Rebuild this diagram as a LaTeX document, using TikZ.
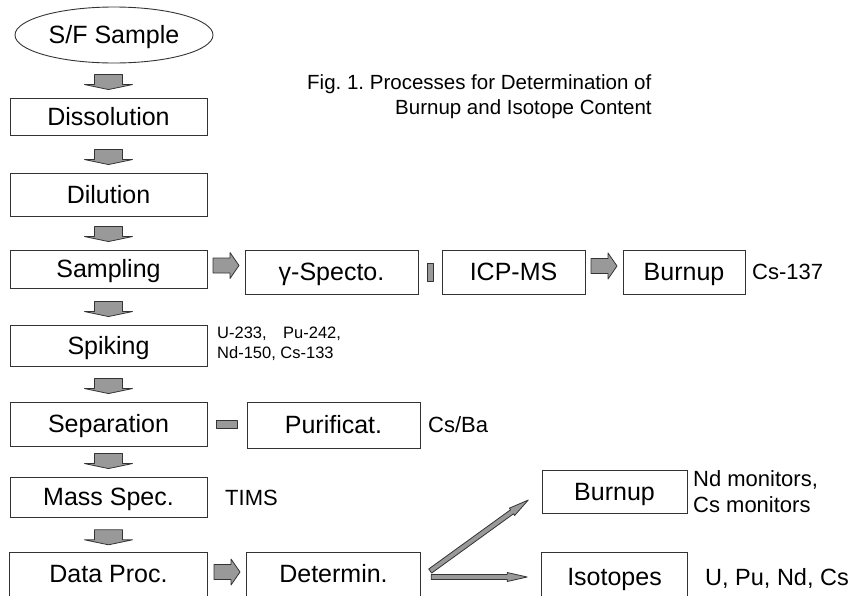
\documentclass[tikz,border=0pt]{standalone}
\usepackage{fontspec}
\setmainfont{Liberation Sans}
\usetikzlibrary{shapes.geometric,calc}
\frenchspacing
\tikzset{
  boxline/.style={draw=black!80,line width=0.9pt},
  boxtext/.style={inner sep=0pt,text height=17.9pt,text depth=0pt,font=\fontsize{25}{30}\selectfont},
  box/.style={boxline,boxtext},
  openbox/.style={boxtext},
  note/.style={anchor=west,inner sep=0pt,font=\fontsize{22}{26}\selectfont},
  smallnote/.style={anchor=west,inner sep=0pt,align=left,font=\fontsize{16.5}{19.5}\selectfont},
  titlefont/.style={anchor=west,inner sep=0pt,font=\fontsize{20.5}{24}\selectfont},
  blk/.style={fill=black!40,draw=black!80,line width=0.8pt,line join=round},
  pics/darr/.style={code={\draw[blk] (-14,-7) -- (14,-7) -- (14,3) -- (24,3) -- (0,8) -- (-24,3) -- (-14,3) -- cycle;}},
  pics/rarr/.style={code={\draw[blk] (-13,-7.5) -- (4,-7.5) -- (4,-13) -- (13,0) -- (4,13) -- (4,7.5) -- (-13,7.5) -- cycle;}},
  pics/thinarr/.style={code={\draw[blk] (0,-2.5) -- (#1-20,-2.5) -- (#1-20,-4.5) -- (#1,0) -- (#1-20,4.5) -- (#1-20,2.5) -- (0,2.5) -- cycle;}},
}
\begin{document}
\begin{tikzpicture}[x=1pt,y=-1pt]
\useasboundingbox (0,0) rectangle (858,595);
% left column
\node[ellipse,box,minimum width=198pt,minimum height=56pt] (sf) at (114,35) {S/F Sample};
\node[box,minimum width=197pt,minimum height=37pt] (diss) at (108.5,116.5) {Dissolution};
\node[box,minimum width=197pt,minimum height=43pt] (dil) at (108.5,194.5) {Dilution};
\node[box,minimum width=197pt,minimum height=38pt] (samp) at (108.5,269) {Sampling};
\node[box,minimum width=197pt,minimum height=41pt] (spik) at (108.5,345.5) {Spiking};
\node[box,minimum width=197pt,minimum height=44pt] (sep) at (108.5,424) {Separation};
\node[box,minimum width=197pt,minimum height=40pt] (mass) at (108.5,497) {Mass Spec.};
\node[openbox,minimum width=197pt,minimum height=42pt] (data) at (108.5,574) {Data Proc.};
\draw[boxline] ([yshift=-20pt]data.south west) -- (data.north west) -- (data.north east) -- ([yshift=-20pt]data.south east);
% second row items
\node[box,minimum width=173pt,minimum height=44pt] (gam) at (331.5,272) {γ-Specto.};
\node[box,minimum width=143pt,minimum height=44pt] (icp) at (513.5,272) {ICP-MS};
\node[box,minimum width=122pt,minimum height=44pt] (burn1) at (684,272) {Burnup};
\node[box,minimum width=173pt,minimum height=46pt] (pur) at (333.5,425) {Purificat.};
\node[openbox,minimum width=173pt,minimum height=42pt] (det) at (333.5,574) {Determin.};
\draw[boxline] ([yshift=-20pt]det.south west) -- (det.north west) -- (det.north east) -- ([yshift=-20pt]det.south east);
\node[box,minimum width=145pt,minimum height=43pt] (burn2) at (614.5,491.5) {Burnup};
\node[openbox,minimum width=145pt,minimum height=48pt] (iso) at (614.5,577) {Isotopes};
\draw[boxline] ([yshift=-20pt]iso.south west) -- (iso.north west) -- (iso.north east) -- ([yshift=-20pt]iso.south east);
% annotations
\node[note] (n137) at (752,272) {Cs-137};
\node[smallnote] (nspk) at (217,344) {U-233,\quad Pu-242,\\Nd-150, Cs-133};
\node[note] (ncsba) at (428,425) {Cs/Ba};
\node[note] (ntims) at (225,498) {TIMS};
\node[note,align=left] (nmon) at (693,491.5) {Nd monitors,\\Cs monitors};
\node[note,font=\fontsize{23.5}{28}\selectfont] (niso) at (705,578) {U, Pu, Nd, Cs};
\node[titlefont] (t1) at (307,84) {Fig. 1. Processes for Determination of};
\node[titlefont] (t2) at (395,109) {Burnup and Isotope Content};
% down block arrows
\pic at ($(diss.north)+(0,-16)$) {darr};
\pic at ($(dil.north)+(0,-16)$) {darr};
\pic at ($(samp.north)+(0,-16)$) {darr};
\pic at ($(spik.north)+(0,-16)$) {darr};
\pic at ($(sep.north)+(0,-16)$) {darr};
\pic at ($(mass.north)+(0,-16)$) {darr};
\pic at ($(data.north)+(0,-16)$) {darr};
% right block arrows
\pic at ($(samp.east)!0.5!(gam.west)+(0,-5)$) {rarr};
\pic at ($(icp.east)!0.5!(burn1.west)+(0,-6)$) {rarr};
\pic at ($(data.east)!0.5!(det.west)+(0,-2)$) {rarr};
% small connectors
\draw[blk] ($(gam.east)!0.5!(icp.west)+(-3,-9)$) rectangle ($(gam.east)!0.5!(icp.west)+(3,9)$);
\draw[blk] ($(sep.east)!0.5!(pur.west)+(-10.5,-4)$) rectangle ($(sep.east)!0.5!(pur.west)+(10.5,4)$);
% thin arrows from Determin.
\coordinate (dA) at ($(det.east)+(10,-3)$);
\coordinate (dB) at ($(det.east)+(11,3)$);
\pic[rotate=35.9] at (dA) {thinarr=121};
\pic at (dB) {thinarr=96};
\end{tikzpicture}
\end{document}
